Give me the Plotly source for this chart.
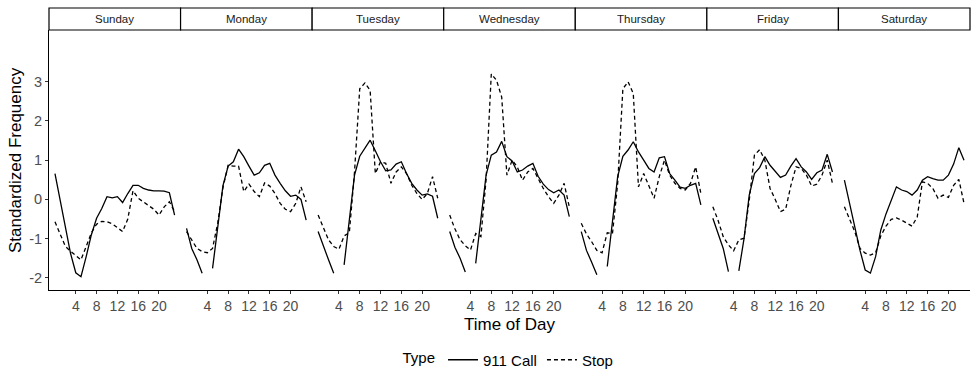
import plotly.graph_objects as go

hours = list(range(24))
days = ["Sunday", "Monday", "Tuesday", "Wednesday", "Thursday", "Friday", "Saturday"]
x_ticks = [4, 8, 12, 16, 20]
y_ticks = [-2, -1, 0, 1, 2, 3]
y_tick_labels = ["-2", "-1", "0", "1", "2", "3"]

call_sunday = [0.66, -0.05, -0.72, -1.38, -1.87, -1.97, -1.46, -0.90, -0.48, -0.23, 0.07, 0.04,
               0.07, -0.08, 0.15, 0.36, 0.36, 0.28, 0.24, 0.22, 0.22, 0.21, 0.17, -0.40]
stop_sunday = [-0.57, -0.90, -1.20, -1.32, -1.42, -1.54, -1.20, -0.85, -0.63, -0.56, -0.57, -0.62,
               -0.72, -0.82, -0.50, 0.22, 0.03, -0.06, -0.14, -0.25, -0.40, -0.19, -0.06, -0.31]

call_monday = [-0.74, -1.25, -1.54, -1.88, None, -1.76, -0.75, 0.35, 0.85, 0.96, 1.28, 1.09,
               0.85, 0.62, 0.68, 0.87, 0.92, 0.62, 0.41, 0.22, 0.08, 0.11, 0.00, -0.53]
stop_monday = [-0.82, -1.05, -1.25, -1.33, -1.36, -1.25, -0.60, 0.30, 0.87, 0.85, 0.85, 0.20,
               0.39, 0.20, 0.07, 0.42, 0.34, 0.15, -0.10, -0.25, -0.31, -0.10, 0.32, -0.06]

call_tuesday = [-0.82, -1.20, -1.54, -1.88, None, -1.67, -0.55, 0.62, 1.10, 1.32, 1.51, 1.24,
                0.96, 0.73, 0.75, 0.90, 0.96, 0.66, 0.41, 0.24, 0.11, 0.14, 0.08, -0.48]
stop_tuesday = [-0.40, -0.74, -1.03, -1.20, -1.27, -0.93, -0.85, 0.70, 2.82, 2.97, 2.78, 0.66,
                0.96, 0.92, 0.41, 0.70, 0.83, 0.66, 0.36, 0.15, 0.00, 0.15, 0.58, 0.03]

call_wednesday = [-0.82, -1.22, -1.50, -1.85, None, -1.63, -0.45, 0.62, 1.13, 1.21, 1.48, 1.09,
                  0.98, 0.70, 0.75, 0.85, 0.92, 0.59, 0.39, 0.25, 0.17, 0.24, 0.11, -0.44]
stop_wednesday = [-0.40, -0.75, -1.03, -1.18, -1.29, -0.87, -0.95, 0.50, 3.20, 3.04, 2.61, 0.62,
                  1.00, 0.83, 0.49, 0.70, 0.79, 0.53, 0.28, 0.07, -0.10, 0.11, 0.41, -0.19]

call_thursday = [-0.82, -1.30, -1.60, -1.92, None, -1.71, -0.50, 0.58, 1.10, 1.26, 1.47, 1.21,
                 1.00, 0.79, 0.70, 1.06, 1.09, 0.66, 0.49, 0.31, 0.28, 0.36, 0.41, -0.14]
stop_thursday = [-0.61, -0.88, -1.08, -1.30, -1.36, -0.85, -0.87, 0.40, 2.82, 3.00, 2.70, 0.32,
                 0.66, 0.36, 0.03, 0.58, 1.00, 0.62, 0.41, 0.28, 0.24, 0.41, 0.83, 0.15]

call_friday = [-0.48, -0.85, -1.25, -1.84, None, -1.82, -1.00, 0.11, 0.66, 0.81, 1.09, 0.87,
               0.70, 0.56, 0.62, 0.85, 1.04, 0.83, 0.70, 0.51, 0.68, 0.75, 1.15, 0.70]
stop_friday = [-0.19, -0.53, -0.95, -1.16, -1.31, -1.03, -0.99, -0.02, 1.13, 1.27, 1.00, 0.28,
               0.00, -0.31, -0.25, 0.35, 0.83, 0.79, 0.62, 0.34, 0.39, 0.62, 1.00, 0.41]

call_saturday = [0.49, -0.10, -0.70, -1.30, -1.80, -1.88, -1.46, -0.78, -0.37, -0.02, 0.32, 0.24,
                 0.20, 0.11, 0.24, 0.49, 0.58, 0.53, 0.49, 0.49, 0.62, 0.90, 1.32, 1.00]
stop_saturday = [-0.19, -0.53, -0.82, -1.25, -1.37, -1.42, -1.36, -0.93, -0.68, -0.51, -0.47, -0.53,
                 -0.61, -0.68, -0.45, 0.45, 0.41, 0.28, 0.03, 0.11, 0.05, 0.36, 0.51, -0.10]

call_series = [call_sunday, call_monday, call_tuesday, call_wednesday, call_thursday, call_friday, call_saturday]
stop_series = [stop_sunday, stop_monday, stop_tuesday, stop_wednesday, stop_thursday, stop_friday, stop_saturday]

FONT = "Liberation Sans, Arial, sans-serif"
W, H = 971, 381
ML, MR, MT, MB = 49, 1, 8, 91
plot_w = W - ML - MR
plot_h = H - MT - MB
bottom_px = H - MB
strip_px = 22
y_top = 1 - strip_px / plot_h

fig = go.Figure()
n = len(days)
layout = {}
for i, day in enumerate(days):
    ax = "" if i == 0 else str(i + 1)
    d0 = i / n
    d1 = (i + 1) / n
    fig.add_trace(go.Scatter(x=hours, y=call_series[i], mode="lines", name="911 Call",
                             line=dict(color="black", width=1.3), connectgaps=False,
                             showlegend=(i == 0), legendgroup="call",
                             xaxis="x" + ax, yaxis="y"))
    fig.add_trace(go.Scatter(x=hours, y=stop_series[i], mode="lines", name="Stop",
                             line=dict(color="black", width=1.3, dash="4px,3px"),
                             showlegend=(i == 0), legendgroup="stop",
                             xaxis="x" + ax, yaxis="y"))
    layout["xaxis" + ax] = dict(domain=[d0, d1], anchor="y", range=[-1.15, 24.15],
                                tickvals=x_ticks, ticks="outside", ticklen=3,
                                tickcolor="#333333", showline=True, linecolor="black",
                                linewidth=1, showgrid=False, zeroline=False,
                                tickfont=dict(family=FONT, size=14, color="#4D4D4D"))
    fig.add_shape(type="rect", xref="paper", yref="paper", x0=d0, x1=d1, y0=y_top, y1=1.0,
                  line=dict(color="black", width=1.2), fillcolor="white", layer="above")
    fig.add_annotation(text=day, xref="paper", yref="paper", x=(d0 + d1) / 2, y=(y_top + 1) / 2,
                       showarrow=False, xanchor="center", yanchor="middle",
                       font=dict(family=FONT, size=11.5, color="#1A1A1A"))

fig.update_layout(**layout)
fig.update_layout(
    width=W, height=H,
    margin=dict(l=ML, r=MR, t=MT, b=MB),
    paper_bgcolor="white", plot_bgcolor="white",
    font=dict(family=FONT),
    yaxis=dict(domain=[0, y_top], anchor="x", range=[-2.31, 4.32],
               tickvals=y_ticks, ticktext=y_tick_labels, ticks="outside", ticklen=3,
               tickcolor="#333333", showline=True, linecolor="black", linewidth=1,
               showgrid=False, zeroline=False,
               tickfont=dict(family=FONT, size=14.5, color="#4D4D4D")),
    legend=dict(orientation="h", x=0.5, xanchor="center", y=-(360 - bottom_px) / plot_h,
                yanchor="middle", itemwidth=30,
                title=dict(text="Type", font=dict(family=FONT, size=15, color="black")),
                font=dict(family=FONT, size=15, color="black")),
)

fig.add_annotation(text="Standardized Frequency", xref="paper", yref="paper",
                   x=(15 - ML) / plot_w, y=y_top / 2, textangle=-90, showarrow=False,
                   xanchor="center", yanchor="middle",
                   font=dict(family=FONT, size=17, color="black"))
fig.add_annotation(text="Time of Day", xref="paper", yref="paper",
                   x=0.5, y=-(324 - bottom_px) / plot_h, showarrow=False,
                   xanchor="center", yanchor="middle",
                   font=dict(family=FONT, size=17, color="black"))

fig.write_html("out.html")
